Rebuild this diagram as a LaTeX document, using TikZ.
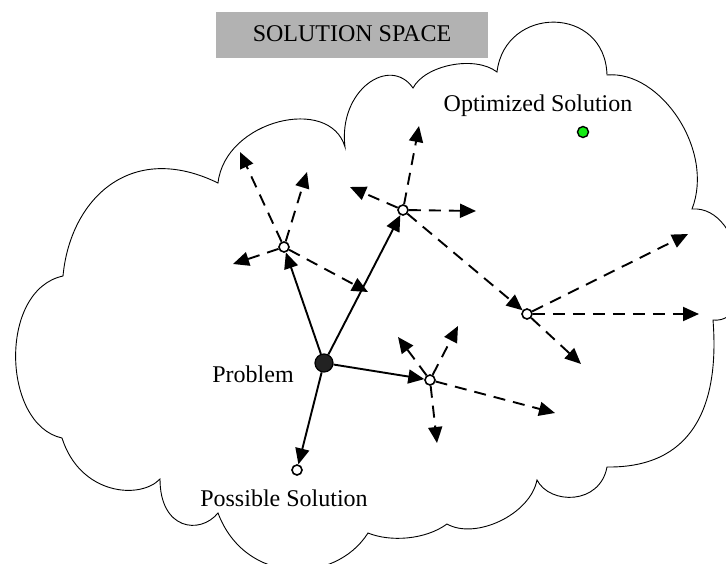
\documentclass[tikz,border=0pt]{standalone}
\usepackage{fontspec}
\setmainfont{Liberation Serif}
\usetikzlibrary{arrows.meta}
\definecolor{titlegray}{RGB}{178,178,178}
\definecolor{dotfill}{RGB}{34,34,34}
\definecolor{optgreen}{RGB}{20,235,20}
\begin{document}
\begin{tikzpicture}[x=1pt,y=-1pt,
  cloudline/.style={line width=0.9pt},
  spot/.style={circle,draw,line width=1.6pt,fill=white,inner sep=0pt,minimum size=10pt},
  problemdot/.style={circle,draw,line width=1.2pt,fill=dotfill,inner sep=0pt,minimum size=18pt},
  optdot/.style={circle,draw,line width=1.4pt,fill=optgreen,inner sep=0pt,minimum size=11pt},
  solidarrow/.style={line width=1.9pt,-{Triangle[length=16pt,width=14pt]}},
  dasharrow/.style={solidarrow,dash pattern=on 12pt off 8pt},
  txt/.style={font=\fontsize{24}{28}\selectfont,inner sep=0pt,anchor=base},
]
\useasboundingbox (0,0) rectangle (726,563);
\begin{scope}
\clip (0,0) rectangle (726,563);
\draw[cloudline] (62,438)
 .. controls (2,425) and (-2,290) .. (63,276)
 .. controls (70,200) and (130,140) .. (218,183)
 .. controls (225,120) and (330,95) .. (345,147)
 .. controls (338,90) and (390,55) .. (413,88)
 .. controls (425,65) and (475,55) .. (497,72)
 .. controls (505,5) and (605,5) .. (607,75)
 .. controls (660,70) and (715,150) .. (692,209)
 .. controls (745,205) and (760,325) .. (713,320)
 .. controls (720,410) and (690,468) .. (607,467)
 .. controls (600,505) and (550,505) .. (537,480)
 .. controls (530,515) and (475,540) .. (447,524)
 .. controls (425,540) and (390,542) .. (368,533)
 .. controls (335,585) and (245,585) .. (218,513)
 .. controls (200,535) and (160,530) .. (160,479)
 .. controls (140,500) and (80,495) .. (62,438)
 -- cycle;
\end{scope}

% title
\node[fill=titlegray,minimum width=272pt,minimum height=46pt,inner sep=0pt,
      font=\fontsize{24}{28}\selectfont,text depth=3pt] (title) at (352,35) {SOLUTION SPACE};

% nodes
\node[problemdot] (P) at (324,363) {};
\node[spot] (A) at (284,247) {};
\node[spot] (B) at (403,210) {};
\node[spot] (C) at (430,380) {};
\node[spot] (D) at (527,314) {};
\node[spot] (S) at (297,470) {};
\node[optdot] (G) at (583,132) {};

% labels
\node[txt] (plabel) at (253,382) {Problem};
\node[txt] (slabel) at (284,506) {Possible Solution};
\node[txt] (olabel) at (538,111) {Optimized Solution};

% free ends
\coordinate (a1) at (240,152);
\coordinate (a2) at (307,172);
\coordinate (a3) at (233,264);
\coordinate (a4) at (368,292);
\coordinate (b1) at (419,126);
\coordinate (b2) at (350,187);
\coordinate (b3) at (476,211);
\coordinate (c1) at (398,337);
\coordinate (c2) at (458,326);
\coordinate (c3) at (437,443);
\coordinate (c4) at (555,413);
\coordinate (d1) at (688,234);
\coordinate (d2) at (699,314);
\coordinate (d3) at (581,364);

% solid arrows
\draw[solidarrow] (P) -- (A);
\draw[solidarrow] (P) -- (B);
\draw[solidarrow] (P) -- (C);
\draw[solidarrow] (P) -- (S);

% dashed arrows
\draw[dasharrow] (A) -- (a1);
\draw[dasharrow] (A) -- (a2);
\draw[dasharrow] (A) -- (a3);
\draw[dasharrow] (A) -- (a4);
\draw[dasharrow] (B) -- (b1);
\draw[dasharrow] (B) -- (b2);
\draw[dasharrow] (B) -- (b3);
\draw[dasharrow] (B) -- (D);
\draw[dasharrow] (C) -- (c1);
\draw[dasharrow] (C) -- (c2);
\draw[dasharrow] (C) -- (c3);
\draw[dasharrow] (C) -- (c4);
\draw[dasharrow] (D) -- (d1);
\draw[dasharrow] (D) -- (d2);
\draw[dasharrow] (D) -- (d3);
\end{tikzpicture}
\end{document}
